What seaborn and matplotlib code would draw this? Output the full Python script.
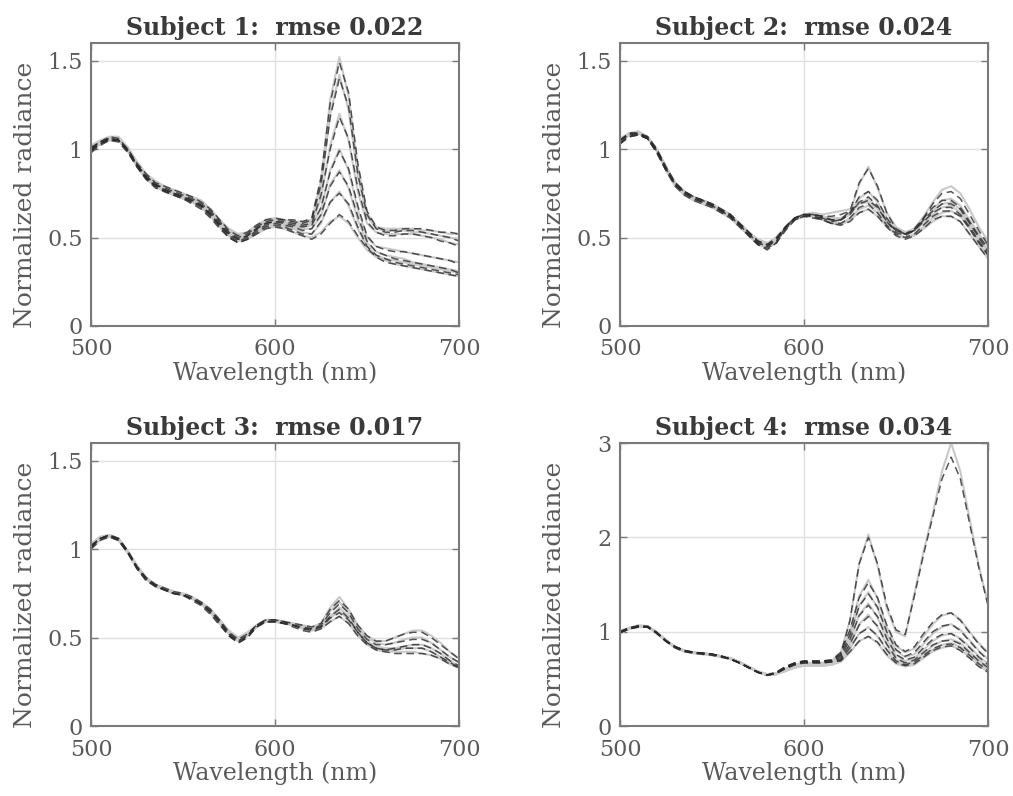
import matplotlib
matplotlib.use("Agg")
import matplotlib.pyplot as plt
import seaborn as sns

# Wavelength grid (nm), 5 nm steps
wavelengths = list(range(500, 701, 5))

titles = ["Subject 1:  rmse 0.022", "Subject 2:  rmse 0.024",
          "Subject 3:  rmse 0.017", "Subject 4:  rmse 0.034"]

# ---- Subject 1 ----
s1_measured = [
    [1.02,1.05,1.07,1.07,1.01,0.93,0.86,0.82,0.79,0.77,0.75,0.73,0.71,0.66,0.60,0.55,0.52,0.53,0.57,0.60,0.61,0.60,0.59,0.59,0.60,0.82,1.28,1.52,1.30,0.90,0.64,0.56,0.55,0.55,0.55,0.55,0.54,0.54,0.53,0.52,0.52],
    [1.00,1.04,1.06,1.06,1.00,0.92,0.85,0.81,0.78,0.76,0.74,0.72,0.70,0.65,0.59,0.54,0.51,0.52,0.56,0.59,0.60,0.59,0.58,0.58,0.59,0.78,1.20,1.42,1.22,0.85,0.62,0.55,0.54,0.54,0.54,0.53,0.53,0.52,0.51,0.50,0.49],
    [0.99,1.03,1.06,1.06,1.00,0.92,0.85,0.80,0.77,0.75,0.73,0.71,0.69,0.64,0.58,0.53,0.50,0.51,0.55,0.58,0.59,0.58,0.57,0.57,0.58,0.72,1.02,1.20,1.05,0.76,0.58,0.53,0.52,0.52,0.52,0.52,0.51,0.50,0.49,0.47,0.46],
    [1.01,1.04,1.06,1.06,1.01,0.92,0.84,0.80,0.77,0.75,0.73,0.71,0.69,0.64,0.58,0.53,0.50,0.51,0.55,0.58,0.59,0.58,0.57,0.56,0.57,0.66,0.88,1.00,0.88,0.66,0.50,0.45,0.44,0.43,0.42,0.41,0.40,0.39,0.38,0.37,0.36],
    [1.00,1.04,1.06,1.06,1.00,0.91,0.84,0.80,0.77,0.75,0.73,0.71,0.68,0.63,0.57,0.52,0.49,0.50,0.54,0.57,0.58,0.57,0.56,0.55,0.55,0.62,0.80,0.88,0.78,0.60,0.47,0.42,0.40,0.39,0.38,0.36,0.35,0.34,0.33,0.32,0.31],
    [0.98,1.03,1.05,1.05,0.99,0.91,0.84,0.79,0.76,0.74,0.72,0.70,0.67,0.62,0.56,0.51,0.48,0.50,0.53,0.56,0.57,0.56,0.55,0.53,0.52,0.58,0.70,0.76,0.68,0.55,0.45,0.40,0.38,0.37,0.36,0.35,0.34,0.33,0.32,0.31,0.30],
    [0.99,1.03,1.05,1.05,0.99,0.90,0.83,0.79,0.76,0.74,0.72,0.70,0.67,0.62,0.56,0.51,0.48,0.49,0.52,0.55,0.56,0.55,0.53,0.51,0.50,0.53,0.59,0.62,0.58,0.50,0.43,0.39,0.37,0.35,0.34,0.33,0.32,0.31,0.30,0.29,0.28],
]
s1_fitted = [
    [1.00,1.04,1.07,1.06,1.00,0.92,0.86,0.81,0.79,0.77,0.75,0.73,0.70,0.66,0.60,0.54,0.51,0.53,0.57,0.60,0.61,0.60,0.60,0.59,0.61,0.84,1.26,1.49,1.32,0.92,0.65,0.56,0.54,0.54,0.55,0.55,0.55,0.54,0.53,0.53,0.52],
    [1.01,1.04,1.06,1.05,0.99,0.91,0.85,0.80,0.78,0.76,0.74,0.72,0.69,0.65,0.59,0.53,0.50,0.52,0.56,0.59,0.60,0.60,0.59,0.58,0.60,0.80,1.18,1.40,1.24,0.86,0.63,0.55,0.53,0.53,0.54,0.54,0.53,0.52,0.51,0.50,0.48],
    [1.00,1.04,1.05,1.05,0.99,0.91,0.84,0.80,0.77,0.75,0.73,0.71,0.68,0.64,0.58,0.52,0.49,0.51,0.55,0.58,0.59,0.59,0.58,0.57,0.58,0.74,1.00,1.18,1.06,0.78,0.59,0.53,0.51,0.51,0.52,0.52,0.51,0.50,0.48,0.47,0.45],
    [1.00,1.04,1.06,1.05,1.00,0.91,0.84,0.80,0.77,0.75,0.73,0.71,0.68,0.63,0.57,0.52,0.49,0.51,0.55,0.58,0.59,0.58,0.57,0.56,0.57,0.67,0.87,0.99,0.89,0.68,0.51,0.45,0.43,0.42,0.42,0.41,0.40,0.39,0.38,0.37,0.35],
    [0.99,1.03,1.06,1.05,0.99,0.91,0.84,0.79,0.77,0.75,0.73,0.70,0.68,0.63,0.57,0.51,0.48,0.50,0.54,0.57,0.58,0.57,0.56,0.54,0.55,0.63,0.79,0.87,0.79,0.62,0.48,0.42,0.40,0.38,0.37,0.36,0.35,0.34,0.33,0.32,0.30],
    [0.99,1.03,1.05,1.05,0.99,0.90,0.83,0.79,0.76,0.74,0.72,0.70,0.67,0.62,0.56,0.50,0.47,0.49,0.53,0.56,0.57,0.56,0.54,0.52,0.52,0.59,0.70,0.75,0.69,0.56,0.45,0.40,0.38,0.36,0.35,0.34,0.33,0.32,0.31,0.30,0.29],
    [0.98,1.02,1.05,1.04,0.98,0.90,0.83,0.78,0.76,0.74,0.72,0.69,0.66,0.61,0.55,0.50,0.47,0.49,0.52,0.55,0.56,0.55,0.53,0.51,0.49,0.52,0.58,0.63,0.59,0.51,0.44,0.39,0.36,0.35,0.34,0.33,0.32,0.31,0.30,0.29,0.28],
]

# ---- Subject 2 ----
s2_measured = [
    [1.05,1.09,1.09,1.07,0.99,0.89,0.80,0.75,0.72,0.70,0.68,0.65,0.62,0.57,0.52,0.47,0.44,0.48,0.56,0.61,0.63,0.63,0.62,0.60,0.60,0.64,0.80,0.90,0.78,0.64,0.56,0.53,0.54,0.58,0.63,0.67,0.68,0.64,0.57,0.49,0.42],
    [1.04,1.08,1.09,1.07,1.00,0.90,0.81,0.76,0.73,0.71,0.69,0.66,0.63,0.58,0.53,0.48,0.46,0.49,0.56,0.61,0.63,0.63,0.62,0.61,0.61,0.64,0.72,0.76,0.70,0.61,0.55,0.53,0.55,0.60,0.66,0.71,0.72,0.68,0.60,0.52,0.45],
    [1.06,1.09,1.10,1.07,1.00,0.90,0.81,0.76,0.73,0.71,0.69,0.66,0.63,0.58,0.53,0.49,0.47,0.50,0.56,0.61,0.63,0.64,0.63,0.64,0.65,0.66,0.69,0.70,0.66,0.59,0.54,0.52,0.55,0.62,0.70,0.77,0.79,0.75,0.66,0.56,0.48],
    [1.03,1.08,1.09,1.06,0.99,0.89,0.80,0.75,0.72,0.70,0.68,0.65,0.62,0.57,0.52,0.47,0.45,0.48,0.55,0.60,0.62,0.62,0.61,0.59,0.58,0.61,0.66,0.68,0.64,0.57,0.52,0.50,0.52,0.56,0.61,0.64,0.65,0.62,0.55,0.47,0.40],
    [1.04,1.08,1.09,1.06,0.99,0.88,0.79,0.74,0.71,0.69,0.67,0.64,0.61,0.56,0.51,0.46,0.44,0.47,0.55,0.60,0.62,0.62,0.60,0.58,0.57,0.60,0.64,0.66,0.62,0.56,0.52,0.50,0.51,0.55,0.59,0.62,0.62,0.59,0.52,0.45,0.38],
    [1.05,1.09,1.10,1.07,1.00,0.90,0.81,0.76,0.73,0.71,0.69,0.66,0.63,0.58,0.53,0.48,0.46,0.49,0.56,0.61,0.63,0.63,0.62,0.60,0.60,0.63,0.69,0.72,0.67,0.59,0.54,0.52,0.54,0.59,0.65,0.69,0.70,0.66,0.58,0.50,0.43],
]
s2_fitted = [
    [1.04,1.08,1.09,1.06,0.98,0.88,0.80,0.75,0.72,0.70,0.68,0.65,0.62,0.57,0.51,0.46,0.43,0.47,0.56,0.61,0.63,0.63,0.61,0.59,0.60,0.65,0.81,0.89,0.79,0.64,0.55,0.52,0.54,0.59,0.64,0.67,0.67,0.63,0.56,0.48,0.41],
    [1.05,1.08,1.08,1.06,0.99,0.89,0.80,0.76,0.73,0.71,0.68,0.65,0.62,0.57,0.52,0.47,0.45,0.49,0.56,0.61,0.63,0.62,0.61,0.60,0.60,0.64,0.73,0.76,0.71,0.61,0.54,0.52,0.55,0.61,0.67,0.71,0.71,0.67,0.59,0.51,0.44],
    [1.05,1.09,1.09,1.07,1.00,0.90,0.81,0.76,0.73,0.71,0.69,0.66,0.63,0.58,0.53,0.48,0.46,0.50,0.56,0.61,0.63,0.63,0.62,0.62,0.63,0.65,0.69,0.71,0.67,0.59,0.53,0.51,0.54,0.61,0.69,0.75,0.76,0.72,0.63,0.54,0.46],
    [1.03,1.07,1.08,1.06,0.99,0.89,0.80,0.75,0.72,0.70,0.68,0.65,0.62,0.57,0.52,0.47,0.45,0.48,0.55,0.60,0.62,0.62,0.60,0.58,0.58,0.61,0.67,0.69,0.64,0.57,0.52,0.50,0.52,0.57,0.62,0.65,0.65,0.62,0.55,0.47,0.40],
    [1.03,1.07,1.08,1.06,0.98,0.88,0.79,0.74,0.71,0.69,0.67,0.64,0.61,0.56,0.51,0.46,0.44,0.47,0.54,0.60,0.62,0.61,0.60,0.58,0.57,0.59,0.64,0.66,0.62,0.56,0.51,0.49,0.51,0.55,0.60,0.62,0.62,0.59,0.52,0.45,0.38],
    [1.05,1.09,1.09,1.07,1.00,0.89,0.81,0.76,0.73,0.71,0.69,0.66,0.63,0.58,0.53,0.48,0.46,0.49,0.56,0.61,0.63,0.63,0.62,0.60,0.60,0.63,0.70,0.73,0.68,0.59,0.54,0.52,0.54,0.60,0.65,0.69,0.69,0.66,0.58,0.50,0.42],
]

# ---- Subject 3 ----
s3_measured = [
    [1.03,1.07,1.08,1.06,0.99,0.91,0.84,0.80,0.78,0.76,0.75,0.73,0.70,0.66,0.60,0.54,0.50,0.53,0.57,0.60,0.60,0.59,0.58,0.57,0.56,0.58,0.67,0.73,0.66,0.57,0.51,0.48,0.48,0.50,0.52,0.54,0.54,0.51,0.47,0.42,0.38],
    [1.01,1.06,1.08,1.06,0.99,0.90,0.83,0.79,0.77,0.75,0.74,0.72,0.69,0.65,0.59,0.53,0.49,0.52,0.57,0.59,0.59,0.58,0.57,0.56,0.55,0.57,0.65,0.70,0.64,0.55,0.50,0.47,0.46,0.47,0.49,0.50,0.50,0.47,0.43,0.39,0.36],
    [1.02,1.06,1.07,1.05,0.98,0.90,0.83,0.80,0.78,0.76,0.74,0.72,0.69,0.64,0.58,0.52,0.49,0.51,0.56,0.59,0.59,0.58,0.57,0.56,0.55,0.56,0.62,0.67,0.62,0.54,0.48,0.45,0.44,0.44,0.45,0.46,0.46,0.44,0.41,0.37,0.34],
    [1.00,1.05,1.07,1.05,0.98,0.89,0.83,0.79,0.77,0.75,0.74,0.72,0.69,0.64,0.58,0.52,0.48,0.51,0.56,0.59,0.59,0.58,0.57,0.55,0.54,0.55,0.59,0.62,0.58,0.51,0.46,0.43,0.42,0.42,0.42,0.42,0.41,0.40,0.38,0.35,0.33],
    [1.03,1.07,1.08,1.06,0.99,0.90,0.84,0.80,0.77,0.75,0.74,0.72,0.69,0.65,0.59,0.53,0.50,0.52,0.57,0.60,0.60,0.59,0.58,0.56,0.55,0.56,0.61,0.65,0.60,0.53,0.47,0.44,0.43,0.43,0.44,0.44,0.44,0.42,0.39,0.36,0.34],
]
s3_fitted = [
    [1.02,1.06,1.08,1.06,0.99,0.90,0.84,0.80,0.78,0.76,0.75,0.73,0.70,0.66,0.60,0.53,0.49,0.52,0.57,0.60,0.60,0.59,0.58,0.57,0.56,0.58,0.66,0.71,0.66,0.57,0.51,0.48,0.48,0.50,0.52,0.53,0.53,0.50,0.46,0.42,0.38],
    [1.01,1.06,1.08,1.05,0.98,0.90,0.83,0.79,0.77,0.75,0.74,0.72,0.69,0.65,0.59,0.52,0.48,0.51,0.57,0.59,0.59,0.58,0.57,0.56,0.55,0.57,0.64,0.69,0.64,0.55,0.49,0.46,0.46,0.47,0.48,0.49,0.49,0.47,0.43,0.39,0.36],
    [1.01,1.06,1.07,1.05,0.98,0.89,0.83,0.79,0.77,0.75,0.74,0.72,0.69,0.64,0.58,0.51,0.47,0.50,0.56,0.59,0.59,0.58,0.57,0.55,0.54,0.56,0.62,0.66,0.61,0.53,0.47,0.44,0.43,0.44,0.45,0.46,0.46,0.44,0.41,0.37,0.34],
    [1.00,1.05,1.07,1.05,0.98,0.89,0.82,0.79,0.77,0.75,0.74,0.71,0.68,0.63,0.57,0.51,0.47,0.50,0.56,0.59,0.59,0.58,0.56,0.54,0.53,0.55,0.59,0.62,0.58,0.51,0.46,0.43,0.42,0.41,0.41,0.41,0.41,0.40,0.38,0.35,0.33],
    [1.02,1.06,1.08,1.06,0.99,0.90,0.83,0.80,0.77,0.75,0.74,0.72,0.69,0.65,0.59,0.52,0.48,0.51,0.57,0.60,0.60,0.59,0.57,0.55,0.55,0.56,0.61,0.64,0.60,0.53,0.47,0.44,0.43,0.43,0.44,0.44,0.44,0.42,0.39,0.36,0.33],
]

# ---- Subject 4 ----
s4_measured = [
    [0.99,1.04,1.06,1.06,0.99,0.91,0.84,0.80,0.78,0.77,0.76,0.74,0.72,0.68,0.63,0.58,0.55,0.56,0.61,0.65,0.67,0.67,0.67,0.69,0.78,1.12,1.72,2.03,1.70,1.25,1.00,0.95,1.40,1.85,2.25,2.70,3.00,2.70,2.20,1.70,1.30],
    [1.00,1.04,1.06,1.06,0.99,0.91,0.84,0.80,0.78,0.77,0.76,0.74,0.72,0.68,0.63,0.58,0.55,0.56,0.60,0.64,0.66,0.66,0.66,0.68,0.76,1.00,1.38,1.55,1.35,1.05,0.85,0.78,0.82,0.95,1.08,1.17,1.20,1.13,1.00,0.88,0.78],
    [1.01,1.04,1.07,1.06,1.00,0.91,0.84,0.80,0.78,0.77,0.76,0.74,0.72,0.68,0.63,0.58,0.55,0.56,0.60,0.63,0.65,0.65,0.65,0.67,0.74,0.95,1.28,1.42,1.25,0.98,0.80,0.73,0.76,0.87,0.98,1.05,1.08,1.02,0.91,0.80,0.71],
    [0.99,1.03,1.06,1.05,0.99,0.90,0.84,0.80,0.78,0.77,0.76,0.74,0.71,0.67,0.62,0.57,0.54,0.55,0.59,0.63,0.65,0.65,0.65,0.66,0.72,0.90,1.18,1.30,1.15,0.92,0.75,0.69,0.72,0.81,0.90,0.96,0.98,0.93,0.84,0.74,0.66],
    [1.00,1.04,1.06,1.06,0.99,0.91,0.84,0.80,0.78,0.77,0.76,0.74,0.71,0.67,0.62,0.57,0.54,0.55,0.59,0.62,0.64,0.64,0.64,0.65,0.70,0.86,1.08,1.18,1.05,0.86,0.71,0.66,0.69,0.77,0.85,0.90,0.92,0.88,0.79,0.70,0.63],
    [0.98,1.03,1.05,1.05,0.98,0.90,0.83,0.79,0.78,0.77,0.76,0.74,0.71,0.67,0.62,0.57,0.54,0.55,0.59,0.62,0.64,0.64,0.64,0.65,0.69,0.82,0.98,1.05,0.95,0.80,0.68,0.64,0.67,0.74,0.81,0.86,0.88,0.84,0.76,0.67,0.60],
    [0.99,1.03,1.05,1.05,0.99,0.90,0.83,0.79,0.77,0.76,0.75,0.73,0.71,0.67,0.62,0.57,0.54,0.55,0.58,0.62,0.64,0.64,0.64,0.65,0.68,0.78,0.90,0.95,0.88,0.75,0.66,0.63,0.65,0.72,0.79,0.83,0.85,0.81,0.73,0.64,0.58],
]
s4_fitted = [
    [0.99,1.03,1.06,1.05,0.99,0.90,0.84,0.80,0.78,0.77,0.76,0.74,0.71,0.67,0.62,0.57,0.54,0.57,0.63,0.67,0.69,0.69,0.69,0.70,0.76,1.12,1.72,2.00,1.72,1.28,1.02,0.97,1.38,1.82,2.22,2.62,2.85,2.62,2.15,1.68,1.28],
    [1.00,1.04,1.06,1.05,0.99,0.90,0.84,0.80,0.78,0.77,0.76,0.74,0.71,0.67,0.62,0.57,0.54,0.57,0.63,0.67,0.69,0.69,0.69,0.70,0.78,1.02,1.36,1.52,1.36,1.07,0.86,0.79,0.84,0.98,1.10,1.18,1.20,1.12,0.99,0.87,0.77],
    [1.00,1.04,1.06,1.06,0.99,0.91,0.84,0.80,0.78,0.77,0.76,0.74,0.71,0.67,0.62,0.57,0.54,0.56,0.62,0.66,0.68,0.68,0.68,0.69,0.75,0.97,1.27,1.40,1.26,1.00,0.81,0.74,0.78,0.89,1.00,1.06,1.08,1.01,0.90,0.79,0.70],
    [0.99,1.03,1.06,1.05,0.99,0.90,0.84,0.80,0.78,0.77,0.76,0.74,0.71,0.67,0.62,0.57,0.54,0.56,0.62,0.66,0.68,0.68,0.68,0.69,0.73,0.92,1.17,1.28,1.16,0.93,0.76,0.70,0.73,0.83,0.92,0.97,0.98,0.92,0.83,0.73,0.65],
    [1.00,1.04,1.06,1.05,0.99,0.90,0.84,0.80,0.78,0.77,0.76,0.74,0.71,0.67,0.62,0.57,0.54,0.56,0.62,0.66,0.68,0.68,0.68,0.69,0.71,0.87,1.07,1.16,1.06,0.87,0.72,0.67,0.70,0.78,0.86,0.90,0.91,0.87,0.78,0.69,0.62],
    [0.99,1.03,1.05,1.05,0.98,0.90,0.83,0.79,0.78,0.77,0.76,0.74,0.71,0.67,0.62,0.57,0.54,0.56,0.61,0.65,0.67,0.67,0.67,0.68,0.70,0.83,0.98,1.04,0.96,0.81,0.69,0.65,0.68,0.75,0.82,0.86,0.87,0.83,0.75,0.66,0.59],
    [0.99,1.03,1.05,1.05,0.99,0.90,0.83,0.79,0.77,0.76,0.75,0.73,0.71,0.67,0.62,0.57,0.54,0.56,0.61,0.65,0.67,0.67,0.67,0.68,0.69,0.79,0.90,0.95,0.89,0.76,0.67,0.64,0.66,0.73,0.80,0.84,0.85,0.80,0.72,0.63,0.57],
]

measured = [s1_measured, s2_measured, s3_measured, s4_measured]
fitted = [s1_fitted, s2_fitted, s3_fitted, s4_fitted]
y_limits = [(0, 1.6), (0, 1.6), (0, 1.6), (0, 3)]
y_ticks = [[0, 0.5, 1, 1.5], [0, 0.5, 1, 1.5], [0, 0.5, 1, 1.5], [0, 1, 2, 3]]
y_ticklabels = [["0", "0.5", "1", "1.5"]] * 3 + [["0", "1", "2", "3"]]
x_ticks = [500, 600, 700]

sns.set_theme(style="white")
plt.rcParams["font.family"] = ["DejaVu Serif"]

text_gray = "#5a5a5a"
fig = plt.figure(figsize=(10.13, 7.96), dpi=100)

lefts = [0.0898, 0.612, 0.0898, 0.612]
bottoms = [0.5905, 0.5905, 0.0879, 0.0879]
width, height = 0.3633, 0.3555

for i in range(4):
    ax = fig.add_axes([lefts[i], bottoms[i], width, height])
    for curve in measured[i]:
        sns.lineplot(x=wavelengths, y=curve, ax=ax, color="#c9c9c9",
                     linewidth=1.5, estimator=None)
    for curve in fitted[i]:
        sns.lineplot(x=wavelengths, y=curve, ax=ax, color="#2b2b2b",
                     linewidth=1.1, alpha=0.8, estimator=None,
                     linestyle=(0, (5, 3)))
    ax.set_xlim(500, 700)
    ax.set_ylim(*y_limits[i])
    ax.set_xticks(x_ticks)
    ax.set_xticklabels([str(t) for t in x_ticks])
    ax.set_yticks(y_ticks[i])
    ax.set_yticklabels(y_ticklabels[i])
    ax.grid(True, color="#e0e0e0", linewidth=1.0)
    ax.set_axisbelow(True)
    for sp in ax.spines.values():
        sp.set_visible(True)
        sp.set_color("#7a7a7a")
        sp.set_linewidth(1.5)
    ax.tick_params(direction="in", length=5, width=1.0, color="#7a7a7a",
                   labelcolor=text_gray, labelsize=16,
                   top=True, right=True, bottom=True, left=True)
    ax.tick_params(axis="x", pad=9)
    ax.tick_params(axis="y", pad=6)
    ax.set_xlabel("Wavelength (nm)", fontsize=17, color=text_gray, labelpad=1)
    ax.set_ylabel("Normalized radiance", fontsize=18, color=text_gray)
    ax.yaxis.set_label_coords(-0.146, 0.465)
    ax.set_title(titles[i], fontsize=17, fontweight="bold", color="#3a3a3a", pad=6)

fig.savefig("out.png", dpi=100)
